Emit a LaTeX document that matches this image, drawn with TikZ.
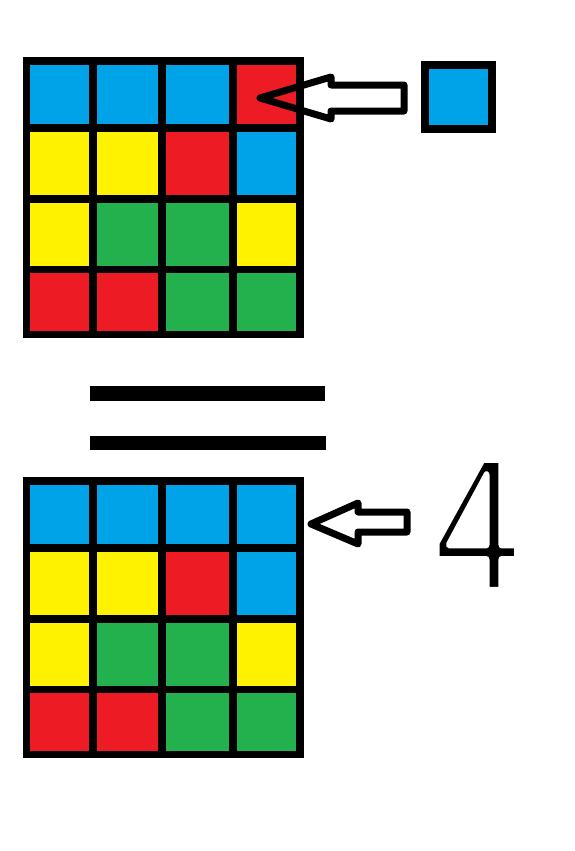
\documentclass[tikz,border=0pt]{standalone}
\usepackage{fontspec}
\newfontfamily\fourfont{DejaVu Sans}
\definecolor{pblue}{RGB}{0,162,232}
\definecolor{pred}{RGB}{237,28,36}
\definecolor{pyel}{RGB}{255,242,0}
\definecolor{pgreen}{RGB}{34,177,76}
\newcommand\gridrow[8]{%
  \node[cell,fill=#5,minimum width=66.5pt,minimum height=#4pt] (#1#21) at (59.75,#3) {};
  \node[cell,fill=#6,minimum width=69pt,minimum height=#4pt] (#1#22) at (127.5,#3) {};
  \node[cell,fill=#7,minimum width=71pt,minimum height=#4pt] (#1#23) at (197.5,#3) {};
  \node[cell,fill=#8,minimum width=67pt,minimum height=#4pt] (#1#24) at (266.5,#3) {};
}
\newcommand\thinglyph[1]{\special{pdf:literal direct q 1 1 1 RG 7 w 1 j 2 Tr}#1\special{pdf:literal direct 0 Tr Q}}
\begin{document}
\begin{tikzpicture}[x=1pt,y=-1pt,
  cell/.style={rectangle,inner sep=0pt,outer sep=0pt,draw=none},
  gridline/.style={line width=7.5pt},
  bar/.style={fill=black},
  blockarrow/.style={line width=7pt,line join=round},
  fourstroke/.style={inner sep=0pt,outer sep=0pt}]
\useasboundingbox (0,0) rectangle (575,851);
\fill[white] (0,0) rectangle (575,851);
% top grid
\gridrow{t}{1}{94.5}{67}{pblue}{pblue}{pblue}{pred}
\gridrow{t}{2}{163.5}{71}{pyel}{pyel}{pred}{pblue}
\gridrow{t}{3}{234.25}{70.5}{pyel}{pgreen}{pgreen}{pyel}
\gridrow{t}{4}{302}{65}{pred}{pred}{pgreen}{pgreen}
% bottom grid
\gridrow{b}{1}{514.5}{67}{pblue}{pblue}{pblue}{pblue}
\gridrow{b}{2}{583.5}{71}{pyel}{pyel}{pred}{pblue}
\gridrow{b}{3}{654.25}{70.5}{pyel}{pgreen}{pgreen}{pyel}
\gridrow{b}{4}{722}{65}{pred}{pred}{pgreen}{pgreen}
% grid lines
\foreach \g in {t,b}{
  \draw[gridline] (\g11.north west) rectangle (\g44.south east);
  \foreach \c in {1,2,3}{
    \draw[gridline] (\g1\c.north east) -- (\g4\c.south east);
    \draw[gridline] (\g\c1.south west) -- (\g\c4.south east);
  }
}
% equals sign
\fill[bar] (90,386) rectangle (325,401);
\fill[bar] (90,436) rectangle (326,450);
% small blue square
\node[draw,line width=8pt,fill=pblue,minimum width=67pt,minimum height=64pt,inner sep=0pt] (sq) at (458.5,97) {};
% arrows
\draw[blockarrow] (260,98) -- (331,77) -- (331,85) -- (404,85) -- (404,111) -- (331,111) -- (331,119) -- cycle;
\draw[blockarrow] (311,524) -- (358,503) -- (358,512) -- (407,512) -- (407,532) -- (358,532) -- (358,544) -- cycle;
% the four
\node[fourstroke,anchor=base] (four) at (477.5,590.5) {\fontsize{180}{180}\selectfont\fourfont\scalebox{0.84}[1]{\thinglyph{4}}};
\end{tikzpicture}
\end{document}
